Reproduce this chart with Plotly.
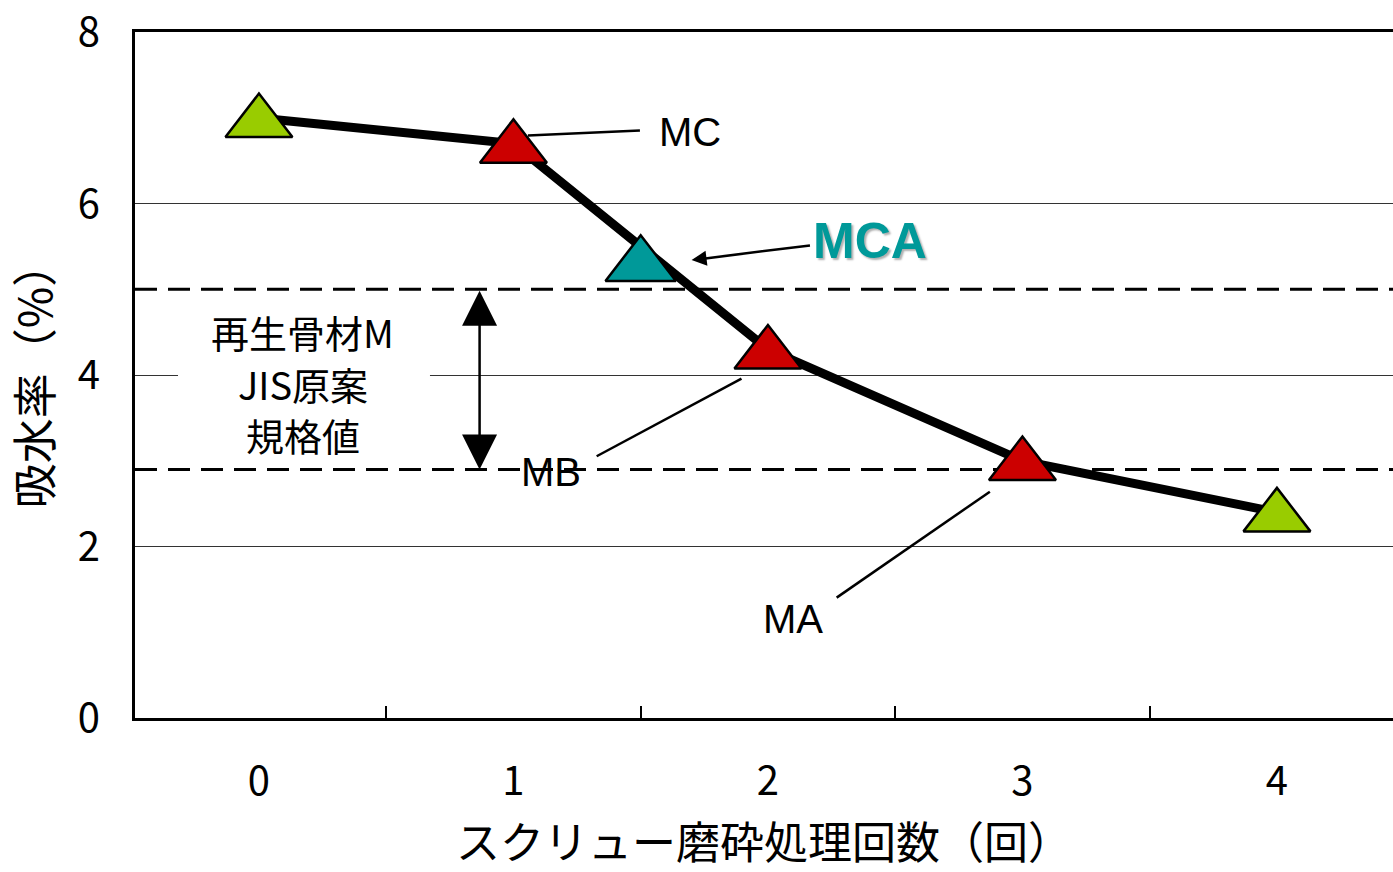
import plotly.graph_objects as go

# Water absorption (%) vs. number of screw grinding passes
passes = [0, 1, 2, 3, 4]
absorption = [7.0, 6.7, 4.3, 3.0, 2.4]
marker_colors = ["#99CC00", "#CC0000", "#CC0000", "#CC0000", "#99CC00"]

# MCA sample (between 1 and 2 passes)
mca_pass = [1.5]
mca_absorption = [5.33]

# JIS draft limits for recycled aggregate M
jis_limits = [5.0, 2.9]
jis_label_lines = ["再生骨材M", "JIS原案", "規格値"]

x_tick_vals = [0, 1, 2, 3, 4]
x_tick_text = ["0", "1", "2", "3", "4"]
x_divider_ticks = [0.5, 1.5, 2.5, 3.5]
y_tick_vals = [0, 2, 4, 6, 8]

X_RANGE = [-0.487, 4.456]
Y_RANGE = [0, 8.002]
# triangle symbols sit on their centroid; nudge the marker axis so the
# triangles straddle the line like centred glyphs
MARKER_SHIFT = 0.054

JP = "Noto Sans CJK JP"
LAT = "Liberation Sans"

fig = go.Figure()

fig.add_trace(go.Scatter(
    x=passes, y=absorption, mode="lines",
    line=dict(color="black", width=9),
    xaxis="x", yaxis="y", showlegend=False, hoverinfo="skip",
))
fig.add_trace(go.Scatter(
    x=passes, y=absorption, mode="markers",
    marker=dict(symbol="triangle-up", size=58, color=marker_colors,
                line=dict(color="black", width=2.5)),
    xaxis="x2", yaxis="y2", showlegend=False,
))
fig.add_trace(go.Scatter(
    x=mca_pass, y=mca_absorption, mode="markers",
    marker=dict(symbol="triangle-up", size=61, color="#009999",
                line=dict(color="black", width=2.5)),
    xaxis="x2", yaxis="y2", showlegend=False,
))

shapes = []
for lim in jis_limits:
    shapes.append(dict(type="line", xref="paper", yref="y", x0=0, x1=1,
                       y0=lim, y1=lim, layer="between",
                       line=dict(color="black", width=3, dash="22px,11px")))

# white panel behind the JIS label
shapes.append(dict(type="rect", xref="x", yref="y", x0=-0.318, x1=0.672,
                   y0=3.3, y1=4.75, layer="between",
                   fillcolor="white", line=dict(width=0)))

# leader lines for MC, MB, MA
leaders = [
    (1.057, 6.796, 1.497, 6.854),
    (1.327, 3.053, 1.896, 3.959),
    (2.270, 1.404, 2.872, 2.640),
]
for x0, y0, x1, y1 in leaders:
    shapes.append(dict(type="line", xref="x", yref="y", x0=x0, y0=y0,
                       x1=x1, y1=y1, layer="above",
                       line=dict(color="black", width=2.5)))

annotations = [
    dict(x=1.693, y=6.83, xref="x", yref="y", text="MC", showarrow=False,
         font=dict(family=LAT, size=40, color="black")),
    dict(x=1.147, y=2.871, xref="x", yref="y", text="MB", showarrow=False,
         font=dict(family=LAT, size=40, color="black")),
    dict(x=2.098, y=1.158, xref="x", yref="y", text="MA", showarrow=False,
         font=dict(family=LAT, size=40, color="black")),
    dict(x=2.401, y=5.568, xref="x", yref="y", text="<b>MCA</b>", showarrow=False,
         font=dict(family=LAT, size=50, color="#009999",
                   shadow="2px 2px 2px #b0b0b0")),
    # arrow toward the MCA marker
    dict(x=1.700, y=5.341, ax=2.171, ay=5.515, xref="x", yref="y",
         axref="x", ayref="y", text="", showarrow=True,
         arrowhead=2, arrowsize=1.2, arrowwidth=2.5, arrowcolor="black",
         standoff=0, startstandoff=0),
    # range of the JIS draft limits
    dict(x=0.867, y=jis_limits[1], ax=0.867, ay=jis_limits[0], xref="x", yref="y",
         axref="x", ayref="y", text="", showarrow=True,
         arrowhead=2, arrowsize=2.8, arrowwidth=2.5, arrowcolor="black",
         arrowside="end+start", startarrowhead=2, startarrowsize=2.8,
         standoff=0, startstandoff=0),
]

# three-line JIS label
for line_text, ly in zip(jis_label_lines, [4.506, 3.904, 3.302]):
    annotations.append(dict(x=0.173, y=ly, xref="x", yref="y", text=line_text,
                            showarrow=False,
                            font=dict(family=JP, size=38, color="black")))

fig.update_layout(
    width=1393, height=872,
    margin=dict(l=135, r=0, t=27, b=154),
    paper_bgcolor="white", plot_bgcolor="white",
    font=dict(family=JP, color="black"),
    shapes=shapes, annotations=annotations,
    xaxis=dict(
        range=X_RANGE, tickvals=x_tick_vals, ticktext=x_tick_text,
        ticks="", showgrid=False, zeroline=False,
        showline=True, linecolor="black", linewidth=3, mirror=True,
        tickfont=dict(family=JP, size=40), ticklabelstandoff=26,
        title=dict(text="スクリュー磨砕処理回数（回）", standoff=32,
                   font=dict(family=JP, size=44)),
    ),
    xaxis2=dict(
        range=X_RANGE, overlaying="x", anchor="y", side="bottom",
        tickvals=x_divider_ticks, ticks="inside", ticklen=12, tickwidth=1.5,
        tickcolor="black", showticklabels=False, showgrid=False,
        zeroline=False, showline=False,
    ),
    yaxis=dict(
        range=Y_RANGE, tickvals=y_tick_vals, ticks="",
        showgrid=True, gridcolor="#333333", gridwidth=1, zeroline=False,
        showline=True, linecolor="black", linewidth=3,
        tickfont=dict(family=JP, size=40), ticklabelstandoff=24,
        ticklabeloverflow="allow",
        title=dict(text="吸水率（%）", standoff=18,
                   font=dict(family=JP, size=45)),
    ),
    yaxis2=dict(
        range=[Y_RANGE[0] + MARKER_SHIFT, Y_RANGE[1] + MARKER_SHIFT],
        overlaying="y", anchor="x", visible=False,
    ),
)

fig.write_html("out.html")
